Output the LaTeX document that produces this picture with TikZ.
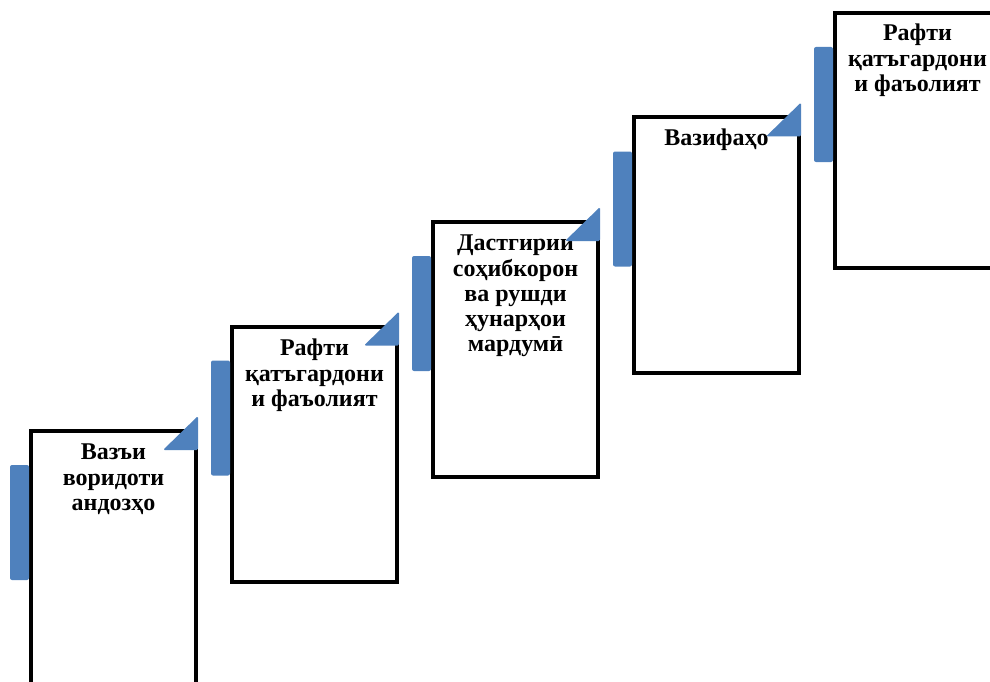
\documentclass[tikz,border=0pt]{standalone}
\usepackage{fontspec}
\setmainfont{Liberation Serif}
\usepackage{tikz}
\usetikzlibrary{calc}
\definecolor{stepblue}{HTML}{4F81BD}
\tikzset{
    stairbox/.style={draw, line width=4pt, fill=white, minimum width=165pt, minimum height=255pt, inner sep=0pt, outer sep=0pt, anchor=north west},
    stairtext/.style={anchor=north, align=center, inner sep=0pt, font=\fontsize{24}{25.2}\selectfont\bfseries},
    stairbar/.style={fill=stepblue, rounded corners=2pt},
    stairtip/.style={fill=stepblue, rounded corners=1.5pt},
}

\begin{document}
\begin{tikzpicture}[x=1pt,y=-1pt]
\useasboundingbox (0,0) rectangle (990,682);

\node [stairbox] (box1) at (31,431) {};
\fill [stairbar] ([xshift=-21pt,yshift=-34pt]box1.north west) rectangle ([xshift=-2pt,yshift=-149pt]box1.north west);
\node [stairtext] (txt1) at ([yshift=-13pt]box1.north) {Вазъи\\воридоти\\андозҳо};
\fill [stairtip] ([xshift=-33pt,yshift=-19pt]box1.north east) -- ([xshift=2pt,yshift=15pt]box1.north east) -- ([xshift=2pt,yshift=-19pt]box1.north east) -- cycle;

\node [stairbox] (box2) at (232,326.5) {};
\fill [stairbar] ([xshift=-21pt,yshift=-34pt]box2.north west) rectangle ([xshift=-2pt,yshift=-149pt]box2.north west);
\node [stairtext] (txt2) at ([yshift=-12.5pt]box2.north) {Рафти\\қатъгардони\\и фаъолият};
\fill [stairtip] ([xshift=-33pt,yshift=-19pt]box2.north east) -- ([xshift=2pt,yshift=15pt]box2.north east) -- ([xshift=2pt,yshift=-19pt]box2.north east) -- cycle;

\node [stairbox] (box3) at (433,222) {};
\fill [stairbar] ([xshift=-21pt,yshift=-34pt]box3.north west) rectangle ([xshift=-2pt,yshift=-149pt]box3.north west);
\node [stairtext] (txt3) at ([yshift=-13pt]box3.north) {Дастгирии\\соҳибкорон\\ва рушди\\ҳунарҳои\\мардумӣ};
\fill [stairtip] ([xshift=-33pt,yshift=-19pt]box3.north east) -- ([xshift=2pt,yshift=15pt]box3.north east) -- ([xshift=2pt,yshift=-19pt]box3.north east) -- cycle;

\node [stairbox] (box4) at (634,117.5) {};
\fill [stairbar] ([xshift=-21pt,yshift=-34pt]box4.north west) rectangle ([xshift=-2pt,yshift=-149pt]box4.north west);
\node [stairtext] (txt4) at ([yshift=-11.5pt]box4.north) {Вазифаҳо};
\fill [stairtip] ([xshift=-33pt,yshift=-19pt]box4.north east) -- ([xshift=2pt,yshift=15pt]box4.north east) -- ([xshift=2pt,yshift=-19pt]box4.north east) -- cycle;

\node [stairbox] (box5) at (835,13) {};
\fill [stairbar] ([xshift=-21pt,yshift=-34pt]box5.north west) rectangle ([xshift=-2pt,yshift=-149pt]box5.north west);
\node [stairtext] (txt5) at ([yshift=-11pt]box5.north) {Рафти\\қатъгардони\\и фаъолият};

\end{tikzpicture}
\end{document}
